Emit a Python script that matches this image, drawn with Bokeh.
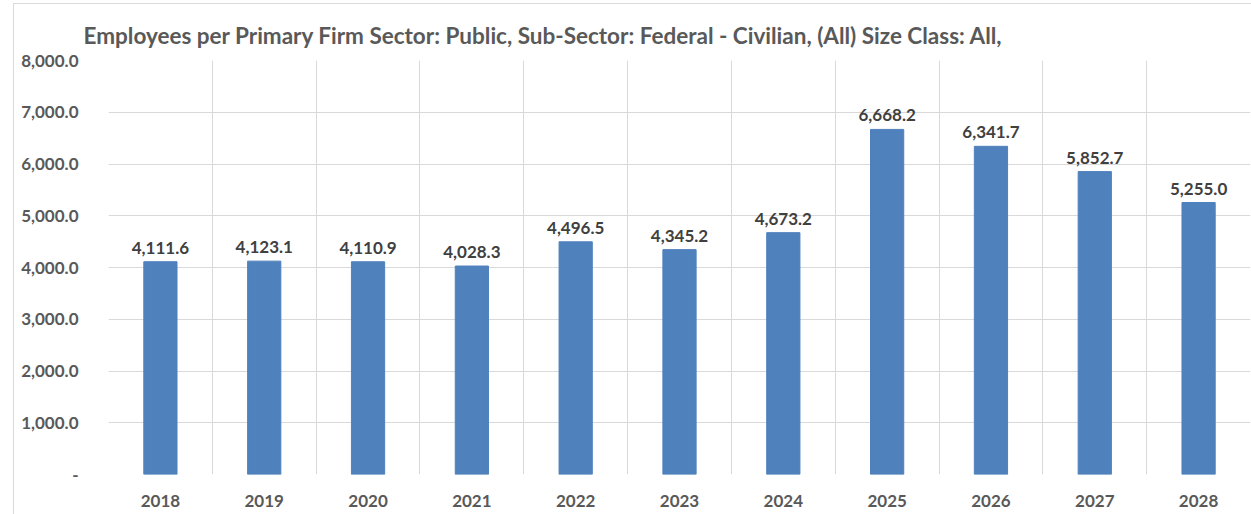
from bokeh.plotting import figure
from bokeh.models import ColumnDataSource, FixedTicker, Grid, NumeralTickFormatter, Range1d, Title, InlineStyleSheet
from bokeh.core.properties import value
from bokeh.embed import file_html
from bokeh.resources import INLINE

years = ["2018", "2019", "2020", "2021", "2022", "2023", "2024", "2025", "2026", "2027", "2028"]
employees = [4111.6, 4123.1, 4110.9, 4028.3, 4496.5, 4345.2, 4673.2, 6668.2, 6341.7, 5852.7, 5255.0]
title_text = "Employees per Primary Firm Sector: Public, Sub-Sector: Federal - Civilian, (All) Size Class: All,"
y_ticks = [0, 1000, 2000, 3000, 4000, 5000, 6000, 7000, 8000]

FONT = "Lato"
GRAY = "#595959"

n = len(years)
xs = [i + 0.5 for i in range(n)]
labels = [f"{v:,.1f}" for v in employees]
src = ColumnDataSource(dict(x=xs, y=employees, lab=labels))

p = figure(width=1251, height=514, output_backend="svg", toolbar_location=None,
           x_range=Range1d(0, n), y_range=Range1d(0, 8000),
           min_border_left=108, min_border_right=1, min_border_top=60, min_border_bottom=40)
p.title = None
t = Title(text=title_text, align="left", offset=-25, text_font=FONT, text_font_size="22.5px",
          text_font_style="bold", text_color=GRAY, standoff=24)
p.add_layout(t, "above")

p.stylesheets = [InlineStyleSheet(css=":host::after { content: ''; position: absolute; left: 13px; top: 3px; "
                                      "right: -10px; bottom: -10px; border: 1px solid #D9D9D9; pointer-events: none; }")]

p.vbar(x="x", top="y", width=0.32, source=src, fill_color="#4F81BD", line_color="#4F81BD")
p.text(x="x", y="y", text="lab", source=src, text_font=value(FONT), text_font_size="17px",
       text_font_style="bold", text_color="#404040", text_align="center", text_baseline="bottom",
       y_offset=-8)

p.outline_line_color = None
p.xgrid.grid_line_color = None
p.ygrid.grid_line_color = "#D9D9D9"
p.ygrid.ticker = FixedTicker(ticks=y_ticks)
vgrid = Grid(dimension=0, ticker=FixedTicker(ticks=list(range(n + 1))), grid_line_color="#D9D9D9")
p.add_layout(vgrid)

p.xaxis.ticker = FixedTicker(ticks=xs)
p.xaxis.major_label_overrides = {x: y for x, y in zip(xs, years)}
p.yaxis.ticker = FixedTicker(ticks=y_ticks)
p.yaxis.formatter = NumeralTickFormatter(format="0,0.0")
p.yaxis.major_label_overrides = {0: "-"}
for ax in (p.xaxis, p.yaxis):
    ax.axis_line_color = None
    ax.major_tick_line_color = None
    ax.minor_tick_line_color = None
    ax.major_label_text_font = FONT
    ax.major_label_text_font_size = "17px"
    ax.major_label_text_font_style = "bold"
    ax.major_label_text_color = GRAY
p.xaxis.major_label_standoff = 14
p.yaxis.major_label_standoff = 24

open("out.html", "w").write(file_html(p, INLINE))
